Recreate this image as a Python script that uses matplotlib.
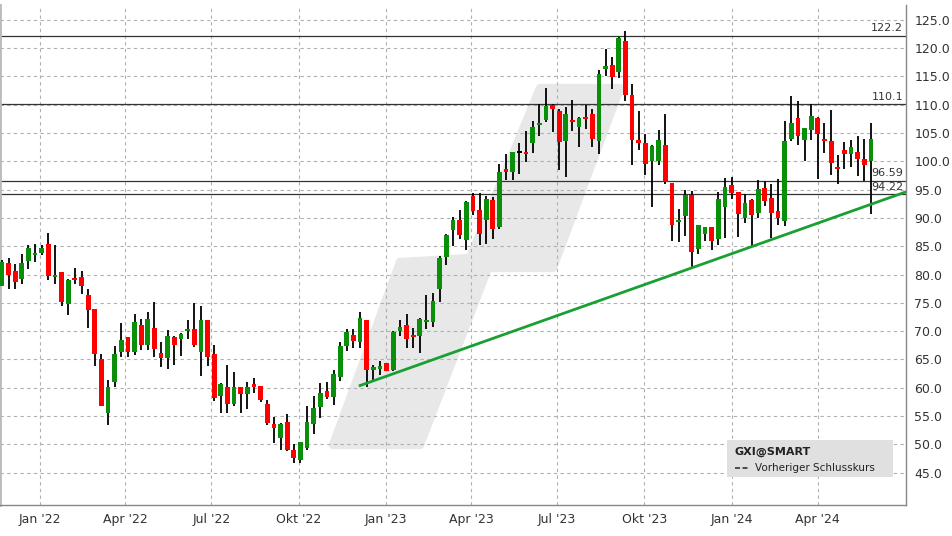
import matplotlib
matplotlib.use("Agg")
import matplotlib.pyplot as plt
import matplotlib.dates as mdates
from matplotlib.patches import Polygon, Rectangle
import numpy as np
import pandas as pd

start = "2021-11-22"
opens = [78,82,80.7,79.2,82.4,83.4,83.8,85.4,79.6,80.4,74.8,79.3,79.5,76.3,74,65,55.5,61,66.3,68.9,66.3,71,67.5,70.5,
66.1,65.3,68.9,68.6,70,70.3,66.3,71.9,65.9,58.5,60.1,57.1,60.1,58.9,60.6,60.4,57.2,53.6,51.1,53.9,49,47.2,49.3,53.6,56.6,59.5,58.4,61.9,67.4,
69.4,68,71.9,63.1,63.4,64.3,63.2,70,71,69.3,69.1,71.7,71.6,77.4,83.1,87.8,89.6,86.1,93.9,91.4,89.6,93.2,88.4,98.6,
98.1,101.5,101.6,103.2,106.4,107.3,109.9,108.9,103.6,107.3,106.0,107.8,108.3,103.6,116.3,117,115.8,121.3,111.7,103.7,103.2,100,100,102.9,96.1,
89.2,90.4,94,84.5,87.2,88.4,86.3,92,95.8,94.5,90,93.1,90.9,95.3,93.5,91.2,89.5,104,107.6,103.8,105.6,107.6,103.9,103.6,99,102,101.2,101.6,100.4,100.1]
highs = [82.5,82.9,81.8,83.6,85.2,85.4,85.2,87.3,85.2,80.4,79.2,81.1,80.6,77.4,74,66,61.3,67.3,71.5,69,73,72.1,73.3,75.1,
68,70.2,69.1,69.7,71.9,75,74.4,71.9,67.5,60.8,64,62.7,60.2,61.1,61.8,60.4,57.8,54.8,53.7,55.3,50,50.4,56.7,58.6,60.8,61.1,63.2,68,70.3,
70.3,73.3,72,64.1,64.7,64.3,70,71.9,73,70.5,72.3,76.3,76.7,83.2,87.1,90.1,91.4,93,94.4,94.4,93.9,93.7,99.5,101.3,
101.6,103.2,105.3,107.1,110.1,113,110.1,109.2,109.6,110.8,107.8,110,109.2,116.1,119.9,118.4,122,123,113.7,108.9,104.8,102.9,105.5,108.3,96.1,
91.5,94.9,94.7,88.7,88.4,88.4,94.5,97,97.2,94.5,94.2,93.3,96.7,96.6,96,96.8,107.1,111.5,110.7,105.9,110.1,107.8,106.8,109.1,101.1,103.4,103.7,104.5,103.9,106.8]
lows = [78,77.5,77.5,78.3,81,82.2,83.4,79,78.3,74.4,72.8,78.3,76.5,70.5,63.8,56.7,53.4,60.1,65.4,65.5,65.8,66.7,66.7,65.4,
63.7,63.3,64,65.6,68.6,67.2,62.1,63.8,57.6,55.5,55.5,56.8,55.5,56.2,59.1,57.5,53.4,50.2,49,48.8,46.7,46.8,49.1,51.8,54.6,58,56.9,61.2,66.5,
67.1,67.1,60.2,61.1,62.2,62.9,62.9,69.1,67,67.1,66.1,70.3,70.8,75.1,81.6,85,86.2,84.3,90.5,85.2,85.4,86.2,88,96.7,
96.7,97.7,99.9,101.4,104.5,106.9,105.2,98.4,97.2,105.3,102.5,105.7,102.5,101.3,115.1,112.8,114.7,110.6,99.3,102,97.6,91.9,99.3,96,85.9,
85.8,86.8,81.3,83.6,85.9,84.3,85.2,86.5,93.4,86.6,89.1,85.0,90,92.1,86.5,88.8,88.6,103.5,102.9,100.1,103.8,96.9,101.5,97.6,96.0,98.7,99.0,97.4,96.6,90.7]
closes = [82.3,79.9,78.7,82,84.6,83.5,84.6,79.7,79.9,75.1,79,79,78,73.8,65.9,56.7,60.1,66,68.5,66.3,71.7,67.5,72.1,66.8,
65.3,69.1,67.6,69.5,70.3,67.6,71.9,65.4,58.2,60.6,57.1,60.1,58.9,60.2,60.1,57.8,53.7,52.9,53.6,49.1,47.6,50.4,54,56.5,59,58.4,62.4,67.3,69.8,
68.2,72.4,63.2,63.6,63.8,62.9,69.8,70.8,68.7,68.9,72.1,72,75.3,82.9,87,89.6,87,92.8,91.2,87.1,93.3,88,98.1,98.1,
101.6,101.5,101.3,106.0,106.7,109.8,109.2,103.4,108.3,106.9,107.6,107.5,103.9,115.4,116.8,114.9,121.8,111.7,103.7,103.2,99.5,102.7,103.7,96.3,88.7,
89.4,94,84,88.7,88.4,85.9,93.3,95.4,94.4,90.7,92.6,90.5,95.1,93,90.9,90,103.6,106.8,104.5,105.9,108,104.9,103.6,99.7,98.7,101.2,102.5,100.4,99.4,103.9]
levels = [122.2, 110.1, 96.59, 94.22]
level_labels = ["122.2", "110.1", "96.59", "94.22"]
trend_start = ("2022-12-05", 60.4)
trend_end = ("2024-07-03", 94.6)
yticks = list(range(45, 126, 5))
xtick_dates = ["2022-01-01","2022-04-01","2022-07-01","2022-10-01","2023-01-01","2023-04-01",
               "2023-07-01","2023-10-01","2024-01-01","2024-04-01"]
xtick_labels = ["Jan '22","Apr '22","Jul '22","Okt '22","Jan '23","Apr '23","Jul '23","Okt '23","Jan '24","Apr '24"]

dates = pd.date_range(start, periods=len(closes), freq="7D")
x = mdates.date2num(dates)

fig = plt.figure(figsize=(9.53, 5.36), dpi=100)
ax = fig.add_axes([0, 1-505/536, 906/953, 500/536])
ax.set_xlim(mdates.date2num(pd.Timestamp("2021-11-20")), mdates.date2num(pd.Timestamp("2024-07-03")))
ax.set_ylim(39.3, 127.6)

# watermark (pixel outline converted to axes fraction)
wm_px = [(333, 445), (420, 445), (488, 268), (553, 268), (620, 88), (540, 88), (470, 258), (400, 262)]
wm = Polygon([(px/906, 1-(py-5)/500) for px, py in wm_px], closed=True, transform=ax.transAxes,
             facecolor="#e8e8e8", edgecolor="#e8e8e8", linewidth=6, joinstyle="round", zorder=0)
ax.add_patch(wm)

ax.grid(True, color="#b0b0b0", linestyle=(0, (3, 3)), linewidth=0.8, zorder=1)
for lv, lb in zip(levels, level_labels):
    ax.axhline(lv, color="#333333", linewidth=0.9, zorder=2)
    ax.text(0.997, lv + 0.4, lb, transform=ax.get_yaxis_transform(), ha="right", va="bottom",
            fontsize=8, color="#333333", zorder=6)

w = 5.0
for xi, o, h, l, c in zip(x, opens, highs, lows, closes):
    col = "#0a8f0a" if c > o else ("#ff0000" if c < o else "black")
    ax.vlines(xi, l, h, color="black", linewidth=1.3, zorder=3)
    bot = min(o, c); ht = max(abs(c - o), 0.35)
    ax.add_patch(Rectangle((xi - w/2, bot), w, ht, facecolor=col, edgecolor="none", zorder=4))

ax.plot([mdates.date2num(pd.Timestamp(trend_start[0])), mdates.date2num(pd.Timestamp(trend_end[0]))],
        [trend_start[1], trend_end[1]], color="#1aa031", linewidth=2, zorder=5)

ax.yaxis.tick_right()
ax.set_yticks(yticks)
ax.set_yticklabels([f"{v:.1f}" for v in yticks], fontsize=9, color="#333333")
ax.set_xticks(mdates.date2num(pd.to_datetime(xtick_dates)))
ax.set_xticklabels(xtick_labels, fontsize=9, color="#333333")
ax.tick_params(length=0, pad=6)
for s in ["top", "bottom", "right"]:
    ax.spines[s].set_visible(False)
ax.spines["left"].set_color("#bbbbbb")
ax.spines["left"].set_linewidth(2)
ax.axhline(39.3, color="#888888", linewidth=1, zorder=6, clip_on=False)
ax.axvline(ax.get_xlim()[1], color="#888888", linewidth=1, zorder=6, clip_on=False)

# legend box
ax.add_patch(Rectangle((727/906, 1-(477-5)/500), 166/906, 37/500, transform=ax.transAxes,
                       facecolor="#e0e0e0", edgecolor="none", zorder=7))
ax.text(735/906, 1-(452-5)/500, "GXI@SMART", transform=ax.transAxes, fontsize=8, fontweight="bold",
        color="#222222", va="center", zorder=8)
ax.plot([735/906, 748/906], [1-(468-5)/500]*2, transform=ax.transAxes, color="#333333",
        linestyle=(0, (3, 1.5)), linewidth=1.2, zorder=8)
ax.text(755/906, 1-(468-5)/500, "Vorheriger Schlusskurs", transform=ax.transAxes, fontsize=7.5,
        color="#222222", va="center", zorder=8)

fig.savefig("out.png", dpi=100)
